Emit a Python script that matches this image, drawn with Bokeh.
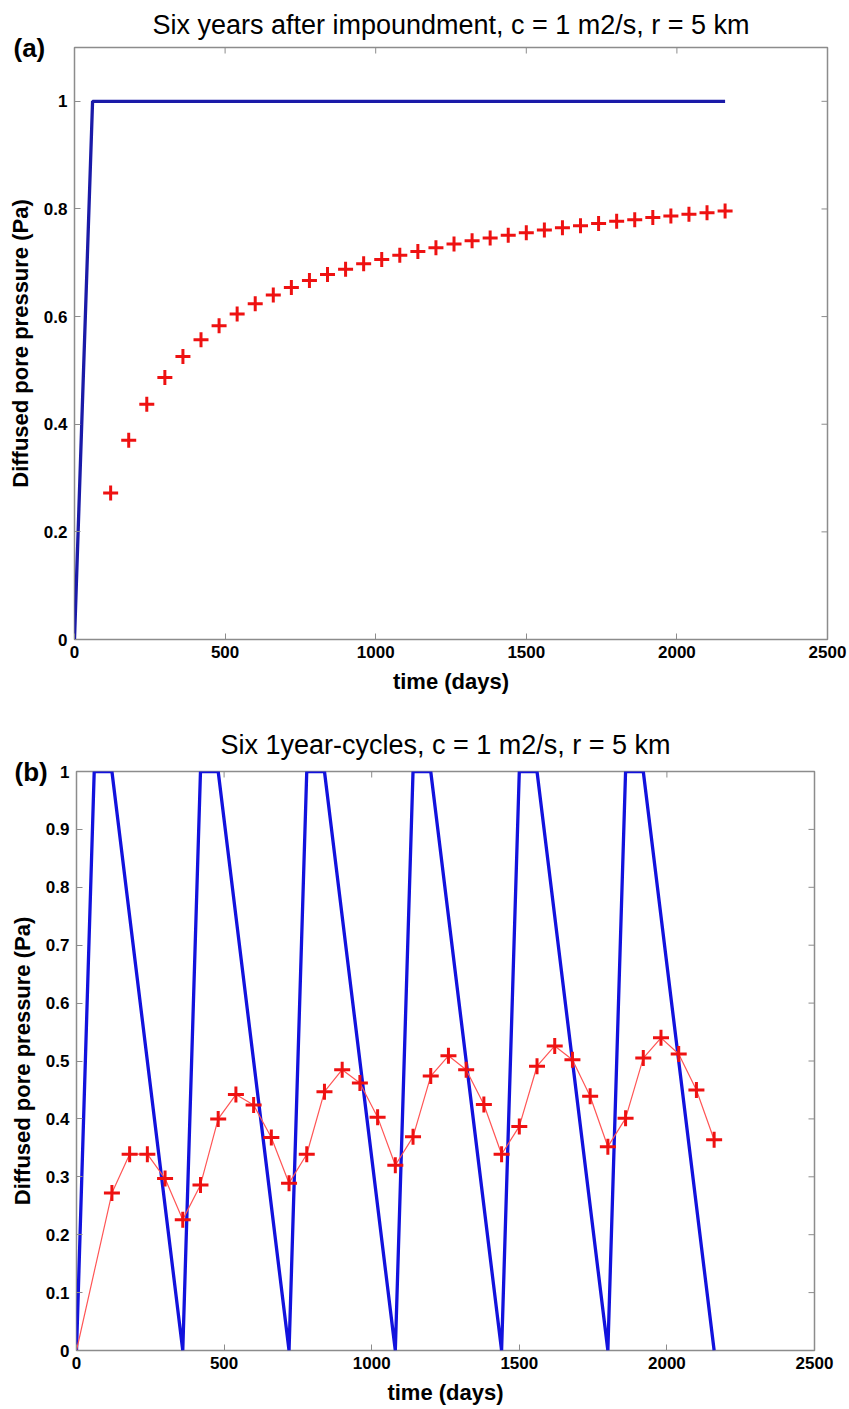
import math
from bokeh.plotting import figure
from bokeh.models import FixedTicker, CustomJSTickFormatter, Range1d, Title
from bokeh.embed import file_html
from bokeh.resources import INLINE

# ---------------- data ----------------
# (a) six years after impoundment
imp_t = [0, 60, 2160]
imp_p = [0, 1, 1]
diff_a_t = [120, 180, 240, 300, 360, 420, 480, 540, 600, 660, 720, 780, 840, 900,
            960, 1020, 1080, 1140, 1200, 1260, 1320, 1380, 1440, 1500, 1560, 1620,
            1680, 1740, 1800, 1860, 1920, 1980, 2040, 2100, 2160]
diff_a_p = [0.272, 0.370, 0.437, 0.487, 0.526, 0.557, 0.583, 0.605, 0.624, 0.640,
            0.654, 0.667, 0.678, 0.688, 0.698, 0.706, 0.714, 0.721, 0.728, 0.735,
            0.741, 0.746, 0.751, 0.756, 0.761, 0.765, 0.769, 0.773, 0.777, 0.780,
            0.784, 0.787, 0.790, 0.793, 0.796]

# (b) six one-year cycles
cyc_t = [0, 60, 120, 360, 420, 480, 720, 780, 840, 1080, 1140, 1200, 1440, 1500,
         1560, 1800, 1860, 1920, 2160]
cyc_p = [0, 1, 1, 0, 1, 1, 0, 1, 1, 0, 1, 1, 0, 1, 1, 0, 1, 1, 0]
diff_b_t = [0, 120, 180, 240, 300, 360, 420, 480, 540, 600, 660, 720, 780, 840, 900,
            960, 1020, 1080, 1140, 1200, 1260, 1320, 1380, 1440, 1500, 1560, 1620,
            1680, 1740, 1800, 1860, 1920, 1980, 2040, 2100, 2160]
diff_b_p = [0.0, 0.272, 0.339, 0.339, 0.297, 0.226, 0.286, 0.400, 0.442, 0.424,
            0.368, 0.289, 0.339, 0.447, 0.485, 0.462, 0.403, 0.320, 0.369, 0.474,
            0.509, 0.485, 0.425, 0.339, 0.387, 0.491, 0.526, 0.502, 0.439, 0.352,
            0.401, 0.505, 0.540, 0.512, 0.450, 0.364]

x_ticks = [0, 500, 1000, 1500, 2000, 2500]
y_ticks_a = [0, 0.2, 0.4, 0.6, 0.8, 1]
y_ticks_b = [0, 0.1, 0.2, 0.3, 0.4, 0.5, 0.6, 0.7, 0.8, 0.9, 1]
x_max = 2500
y_max_a = 1.1
y_max_b = 1.0

FONT = "Liberation Sans"
GRAY = "#8c8c8c"
RED = "#ee1111"
TEXT_H = 31  # approx. text box height for 26-27px font


def style(p, yticks, ymax, title, tag, tag_offset, title_gap):
    # panel tag "(a)"/"(b)", centred on the frame's top edge (zero-height slot)
    tag_t = Title(text=tag, align="left", vertical_align="middle",
                  offset=tag_offset, standoff=-(2 + TEXT_H),
                  text_font=FONT, text_font_size="26px",
                  text_font_style="bold", text_color="black")
    p.add_layout(tag_t, "above")
    p.title.text = title
    p.title.align = "center"
    p.title.vertical_align = "middle"
    p.title.text_font = FONT
    p.title.text_font_size = "27px"
    p.title.text_font_style = "normal"
    p.title.text_color = "black"
    p.title.standoff = title_gap
    p.outline_line_color = GRAY
    p.outline_line_width = 1.5
    p.xgrid.visible = False
    p.ygrid.visible = False
    for ax in (p.xaxis[0], p.yaxis[0]):
        ax.axis_line_color = None
        ax.major_tick_line_color = GRAY
        ax.major_tick_in = 6
        ax.major_tick_out = 0
        ax.minor_tick_line_color = None
        ax.major_label_text_font = FONT
        ax.major_label_text_font_style = "bold"
        ax.major_label_text_font_size = "17px"
        ax.major_label_text_color = "black"
        ax.axis_label_text_font = FONT
        ax.axis_label_text_font_style = "bold"
        ax.axis_label_text_font_size = "22px"
        ax.axis_label_text_color = "black"
    p.xaxis[0].ticker = FixedTicker(ticks=x_ticks)
    p.yaxis[0].ticker = FixedTicker(ticks=yticks)
    p.yaxis[0].formatter = CustomJSTickFormatter(
        code="return String(Math.round(tick*10)/10);")
    p.xaxis[0].axis_label = "time (days)"
    p.yaxis[0].axis_label = "Diffused pore pressure (Pa)"
    p.xaxis[0].major_label_standoff = 6
    p.xaxis[0].axis_label_standoff = 8
    p.yaxis[0].major_label_standoff = 7
    p.yaxis[0].axis_label_standoff = 8
    # inward tick marks on the top and right edges of the box
    p.scatter(x_ticks, [ymax] * len(x_ticks), marker="dash", angle=math.pi / 2,
              size=12, line_color=GRAY, line_width=1)
    p.scatter([x_max] * len(yticks), yticks, marker="dash", size=12,
              line_color=GRAY, line_width=1)


# ---------------- panel (a) ----------------
pa = figure(width=848, height=700, output_backend="svg", toolbar_location=None,
            x_range=Range1d(0, x_max), y_range=Range1d(0, y_max_a),
            min_border_left=74, min_border_right=21, min_border_top=47,
            min_border_bottom=61)
style(pa, y_ticks_a, y_max_a, "Six years after impoundment, c = 1 m2/s, r = 5 km",
      "(a)", -61, 13)
pa.line(imp_t, imp_p, line_color="#1a1aa8", line_width=3.3)
pa.scatter(diff_a_t, diff_a_p, marker="cross", size=15, line_width=3,
           line_color=RED)

# ---------------- panel (b) ----------------
pb = figure(width=848, height=709, output_backend="svg", toolbar_location=None,
            x_range=Range1d(0, x_max), y_range=Range1d(0, y_max_b),
            min_border_left=76, min_border_right=34, min_border_top=71,
            min_border_bottom=59)
style(pb, y_ticks_b, y_max_b, "Six 1year-cycles, c = 1 m2/s, r = 5 km",
      "(b)", -62, 21)
pb.line(cyc_t, cyc_p, line_color="#1212dd", line_width=3.3)
pb.line(diff_b_t, diff_b_p, line_color="#ff5555", line_width=1.2)
pb.scatter(diff_b_t[1:], diff_b_p[1:], marker="cross", size=16, line_width=3,
           line_color=RED)

# two independent roots stacked on the page (no cross-plot frame alignment)
open("out.html", "w").write(file_html([pa, pb], INLINE))
